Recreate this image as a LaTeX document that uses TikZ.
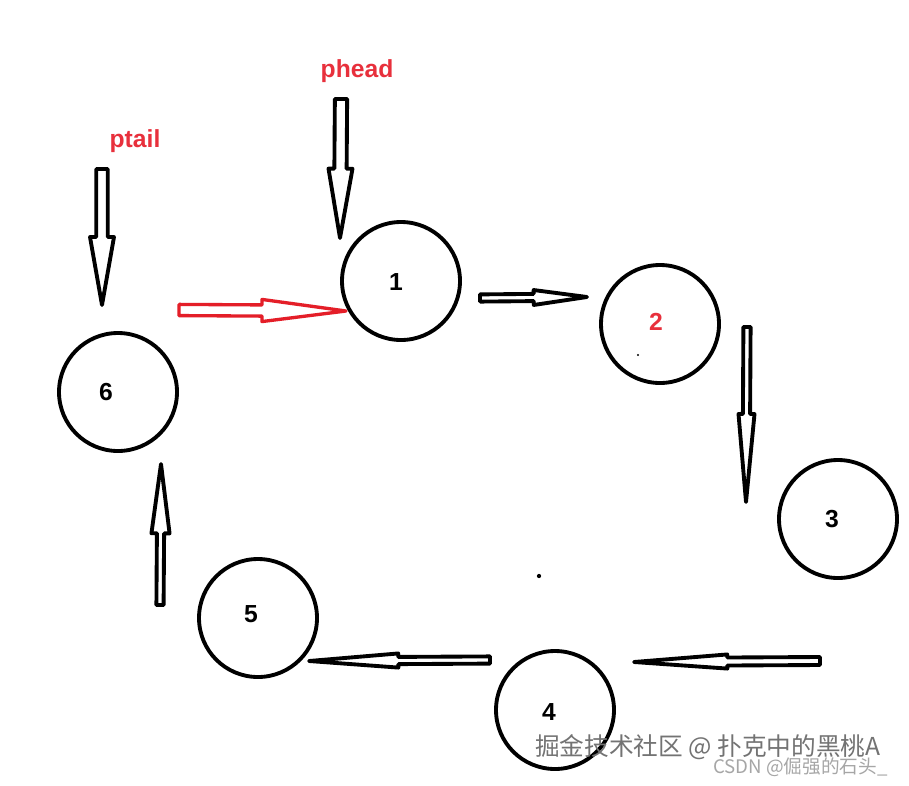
\documentclass[tikz,border=0pt]{standalone}
\usepackage{fontspec}
\setmainfont{Liberation Sans}
\newfontfamily\cjk{Noto Sans CJK SC}
\usetikzlibrary{calc}
\definecolor{myred}{RGB}{232,48,60}
\definecolor{arrred}{RGB}{228,30,40}
% #1 style, #2 start, #3 tip, #4 head length, #5 shaft half-width, #6 head half-width
\newcommand{\blockarrow}[6]{%
  \draw[#1] ($(#2)!#5!90:(#3)$)
    -- ($(#3)!#4!(#2)!#5!-90:(#2)$)
    -- ($(#3)!#4!(#2)!#6!-90:(#2)$)
    -- (#3)
    -- ($(#3)!#4!(#2)!#6!90:(#2)$)
    -- ($(#3)!#4!(#2)!#5!90:(#2)$)
    -- ($(#2)!#5!-90:(#3)$) -- cycle;}
\begin{document}
\begin{tikzpicture}[x=0.75pt,y=-0.75pt,
  circ/.style={draw, line width=2.9pt, circle, minimum size=88.5pt, inner sep=0pt},
  num/.style={font=\fontsize{18.5}{20}\selectfont\bfseries},
  ptr/.style={text=myred, font=\fontsize{18.5}{22}\selectfont\bfseries, anchor=base},
  barr/.style={draw=black, line width=2.9pt, line join=round, fill=white},
  rarr/.style={draw=arrred, line width=2.5pt, line join=round, fill=white},
  wm/.style={font=\cjk\fontsize{18.5}{22}\selectfont, anchor=base west, inner sep=0pt}]
\useasboundingbox[fill=white] (0,0) rectangle (909,785);

% circles
\node[circ] (c1) at (401,281) {};
\node[circ] (c2) at (660,324) {};
\node[circ] (c3) at (838,519) {};
\node[circ] (c4) at (555,710) {};
\node[circ] (c5) at (258,618) {};
\node[circ] (c6) at (118,392) {};

% numbers
\node[num] (t1) at (396,282) {1};
\node[num, text=myred] (t2) at (656,322) {2};
\node[num] (t3) at (832,519) {3};
\node[num] (t4) at (549,712) {4};
\node[num] (t5) at (251,614) {5};
\node[num] (t6) at (106,392) {6};

% pointer labels
\node[ptr] (lhead) at (357,77) {phead};
\node[ptr] (ltail) at (135,147) {ptail};

% arrow end points
\coordinate (hs) at (341,99);   \coordinate (ht) at (340,238);
\coordinate (ts) at (102,169);  \coordinate (tt) at (102,305);
\coordinate (rs) at (179,310);  \coordinate (rt) at (346,311);
\coordinate (a12s) at (480,298); \coordinate (a12t) at (587,297);
\coordinate (a23s) at (747,327); \coordinate (a23t) at (746,502);
\coordinate (a34s) at (820,661); \coordinate (a34t) at (634,662);
\coordinate (a45s) at (490,660); \coordinate (a45t) at (309,661);
\coordinate (a56s) at (160,605); \coordinate (a56t) at (161,464);

\blockarrow{barr}{hs}{ht}{52pt}{4.6pt}{9pt}
\blockarrow{barr}{ts}{tt}{51pt}{4.3pt}{9pt}
\blockarrow{rarr}{rs}{rt}{63pt}{4.2pt}{8.3pt}
\blockarrow{barr}{a12s}{a12t}{40pt}{2.7pt}{5.6pt}
\blockarrow{barr}{a23s}{a23t}{66pt}{2.7pt}{6pt}
\blockarrow{barr}{a34s}{a34t}{70pt}{3pt}{5.3pt}
\blockarrow{barr}{a45s}{a45t}{67pt}{2.7pt}{5.3pt}
\blockarrow{barr}{a56s}{a56t}{52pt}{2.7pt}{6.8pt}

% stray dots
\fill (539,576) circle (1.6pt);
\fill (638,355) circle (0.8pt);

% watermark
\node[wm, text=black!55] (w1) at (535,755) {掘金技术社区 @ 扑克中的黑桃A};
\node[wm, text=black!35, font=\cjk\fontsize{14}{16}\selectfont] (w2) at (713,773) {CSDN @倔强的石头\_};
\end{tikzpicture}
\end{document}
